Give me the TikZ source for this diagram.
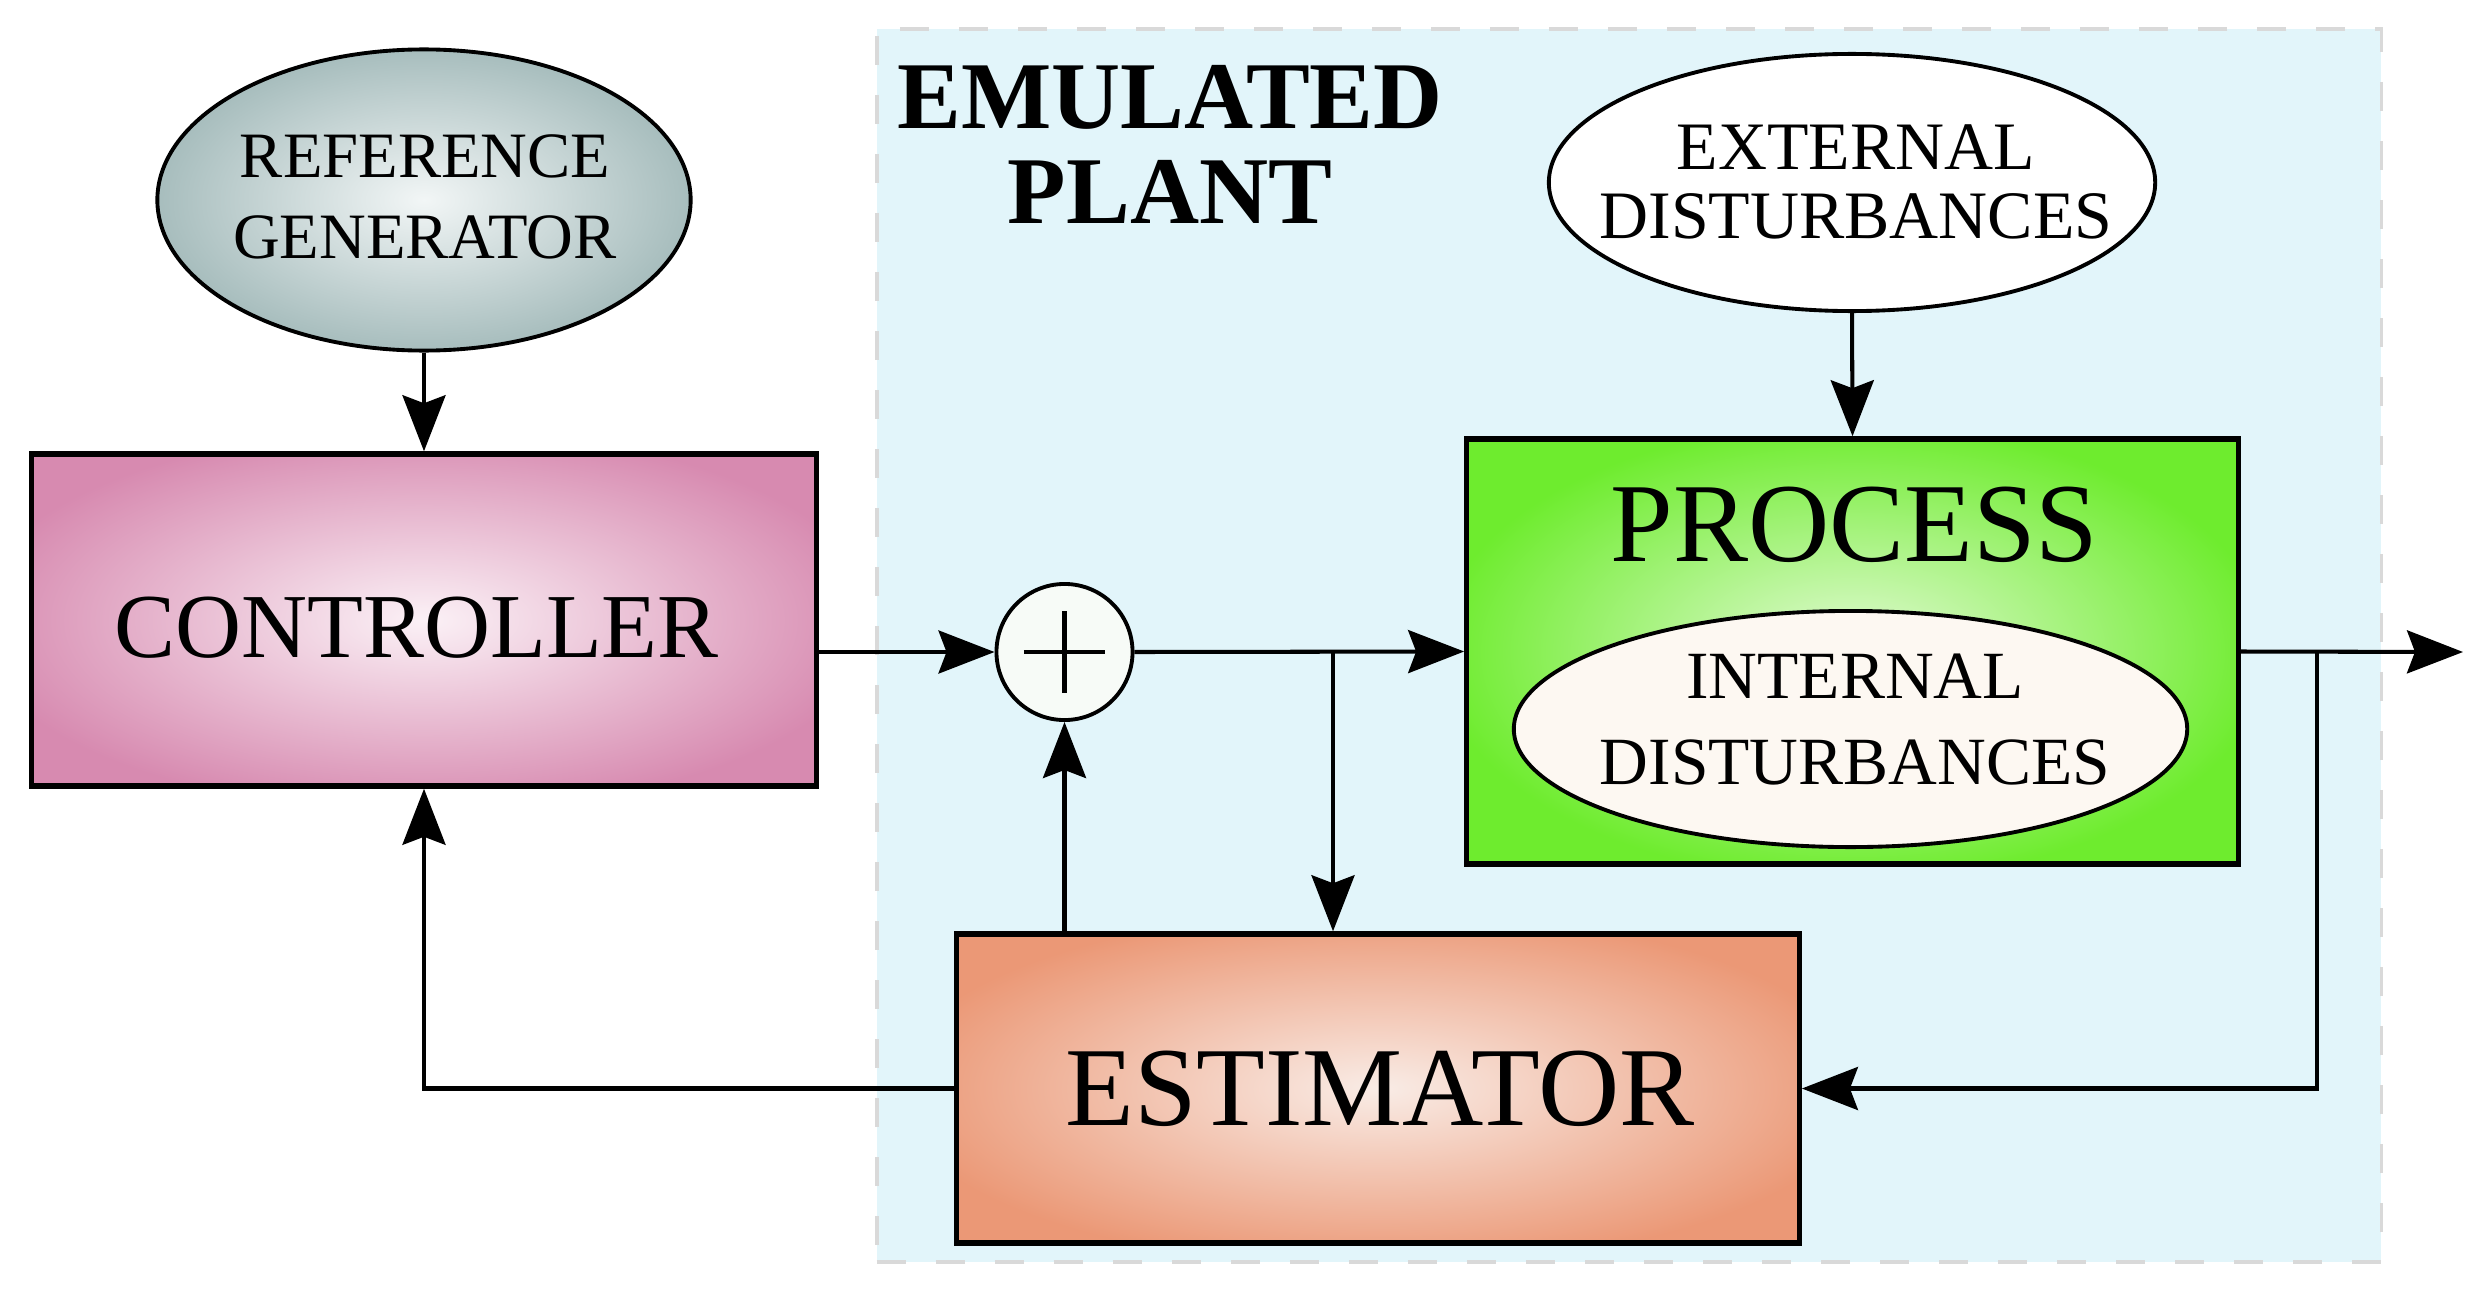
\documentclass[tikz,border=0pt]{standalone}
\usepackage{fontspec}
\setmainfont{Liberation Serif}
\usetikzlibrary{arrows.meta, shapes.geometric}

\definecolor{plantfill}{HTML}{E2F5FA}
\definecolor{plantdash}{HTML}{D9D9D9}
\definecolor{refout}{HTML}{9BB4B4}
\definecolor{refin}{HTML}{F2F6F6}
\definecolor{ctrlout}{HTML}{D78AB0}
\definecolor{ctrlin}{HTML}{FBF1F6}
\definecolor{procout}{HTML}{6EEC2E}
\definecolor{procin}{HTML}{E2FAD4}
\definecolor{estout}{HTML}{EB9876}
\definecolor{estin}{HTML}{F9ECE6}
\definecolor{intfill}{HTML}{FDF8F2}
\definecolor{sumfill}{HTML}{F7FBF7}

\pgfdeclareradialshading{refshade}{\pgfpoint{0bp}{0bp}}{color(0bp)=(refin); color(29bp)=(refout); color(100bp)=(refout)}
\pgfdeclareradialshading{ctrlshade}{\pgfpoint{0bp}{0bp}}{color(0bp)=(ctrlin); color(29bp)=(ctrlout); color(100bp)=(ctrlout)}
\pgfdeclareradialshading{procshade}{\pgfpoint{0bp}{0bp}}{color(0bp)=(procin); color(27bp)=(procout); color(100bp)=(procout)}
\pgfdeclareradialshading{estshade}{\pgfpoint{0bp}{0bp}}{color(0bp)=(estin); color(29bp)=(estout); color(100bp)=(estout)}

\begin{document}
\begin{tikzpicture}[x=0.01cm, y=-0.01cm,
    % Blocks
    block/.style={draw, rectangle, line width=1.5pt, inner sep=0pt},
    ctrlbox/.style={block, shade, shading=ctrlshade, minimum width=7.84cm, minimum height=3.32cm},
    procbox/.style={block, shade, shading=procshade, minimum width=7.71cm, minimum height=4.25cm},
    estbox/.style={block, shade, shading=estshade, minimum width=8.42cm, minimum height=3.09cm},
    % Ellipses and the summing junction
    oval/.style={draw, ellipse, line width=1.1pt, inner sep=0pt},
    refoval/.style={oval, shade, shading=refshade, minimum width=5.33cm, minimum height=3.01cm},
    extoval/.style={oval, fill=white, minimum width=6.06cm, minimum height=2.57cm},
    intoval/.style={oval, fill=intfill, minimum width=6.73cm, minimum height=2.36cm},
    sumnode/.style={draw, circle, line width=1.1pt, fill=sumfill, minimum size=1.36cm, inner sep=0pt},
    plus/.style={line width=1.2pt},
    % Emulated plant region
    plantbox/.style={rectangle, draw=plantdash, fill=plantfill, line width=1.1pt, dash pattern=on 2.9mm off 3mm, minimum width=15.04cm, minimum height=12.33cm, inner sep=0pt},
    % Labels
    txt/.style={inner sep=0pt, align=center},
    % Signals
    sig/.style={-{Stealth[length=5.6mm, width=4.3mm, inset=0.8mm]}, line width=1.15pt}
]
\useasboundingbox (0,0) rectangle (2489,1291);

% Emulated plant background
\node[plantbox] (plant) at (1629,645.5) {};
\node[txt, font=\bfseries\fontsize{27.2}{27}\selectfont] (plantlbl) at (1170,144.5) {EMULATED\\PLANT};

% Reference generator and controller
\node[refoval] (refgen) at (424,200) {};
\node[txt, font=\fontsize{18.4}{23}\selectfont] (reflbl) at (425,196.5) {REFERENCE\\GENERATOR};
\node[ctrlbox] (ctrl) at (424,620) {};
\node[txt, font=\fontsize{26}{30}\selectfont] (ctrllbl) at (416.5,628) {CONTROLLER};

% Summing junction
\node[sumnode] (sum) at (1064.5,652) {};
\draw[plus] ([xshift=-4.05mm]sum.center) -- ([xshift=4.05mm]sum.center);
\draw[plus] ([yshift=-4.05mm]sum.center) -- ([yshift=4.05mm]sum.center);

% Process with disturbances
\node[extoval] (extdist) at (1852,182.5) {};
\node[txt, font=\fontsize{19.3}{19.6}\selectfont] (extlbl) at (1856,182) {EXTERNAL\\DISTURBANCES};
\node[procbox] (proc) at (1852.5,651.5) {};
\node[txt, font=\fontsize{32}{36}\selectfont] (proclbl) at (1854.5,524.5) {PROCESS};
\node[intoval] (intdist) at (1850.5,729) {};
\node[txt, font=\fontsize{19.2}{24.7}\selectfont] (intlbl) at (1855,719.5) {INTERNAL\\DISTURBANCES};

% Estimator
\node[estbox] (est) at (1378,1088.5) {};
\node[txt, font=\fontsize{32}{36}\selectfont] (estlbl) at (1380,1089) {ESTIMATOR};

% Branch points and output
\coordinate (split1) at (1333,652);
\coordinate (split2) at (2317,652);
\coordinate (out) at (2463,652);

% Signals
\draw[sig] (refgen.south) -- (ctrl.north);
\draw[sig] (ctrl.east |- sum) -- (sum.west);
\draw[sig] (sum.east) -- (proc.west);
\draw[sig] (split1) -- (split1 |- est.north);
\draw[sig] (extdist.south) -- (proc.north);
\draw[sig] (proc.east) -- (out);
\draw[sig] (split2) |- (est.east);
\draw[sig] (est.north -| sum) -- (sum.south);
\draw[sig] (est.west) -| (ctrl.south);

\end{tikzpicture}
\end{document}
